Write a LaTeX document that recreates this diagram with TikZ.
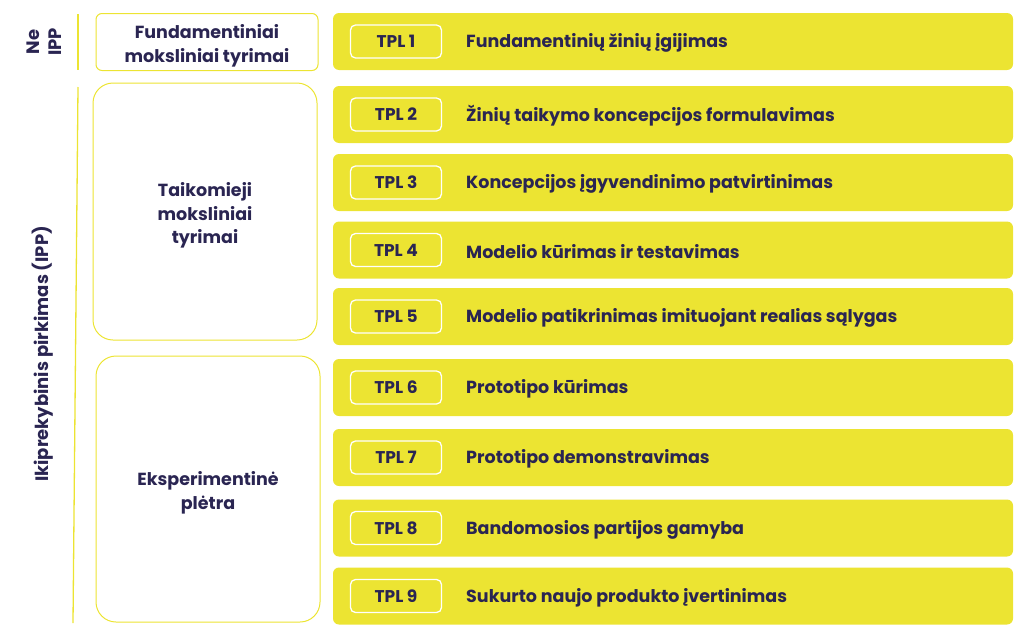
\documentclass[tikz,border=0pt]{standalone}
\usepackage{fontspec}
\setmainfont{Poppins}
\usepackage{tikz}
\usetikzlibrary{positioning}
\definecolor{tplyellow}{HTML}{ECE432}
\definecolor{tplnavy}{HTML}{2A2552}
\tikzstyle{row} = [rectangle, fill=tplyellow, rounded corners=6pt,
    minimum width=680pt, minimum height=57pt, inner sep=0pt]
\tikzstyle{tag} = [rectangle, draw=white, line width=1.3pt, rounded corners=5pt,
    minimum width=91pt, minimum height=33pt, text=tplnavy, font=\fontsize{17}{20}\selectfont\bfseries]
\tikzstyle{desc} = [anchor=west, inner sep=0pt, text=tplnavy, font=\fontsize{17.5}{20}\selectfont\bfseries]
\tikzstyle{group} = [rectangle, draw=tplyellow, line width=1pt, inner sep=0pt]
\tikzstyle{grouptext} = [text=tplnavy, align=center, yshift=-4pt,
    font=\fontsize{17.5}{23.5}\selectfont\bfseries]
\tikzstyle{side} = [rotate=90, text=tplnavy, align=center,
    font=\fontsize{18}{22}\selectfont\bfseries]
\tikzstyle{divider} = [draw=tplyellow, line width=1.3pt]
\begin{document}
\begin{tikzpicture}[x=1pt, y=-1pt]
      \useasboundingbox (0,0) rectangle (1024,640);
      % TPL rows
      \foreach \n/\y/\txt in {1/41.5/{Fundamentinių žinių įgijimas},
          2/114.5/{Žinių taikymo koncepcijos formulavimas},
          3/182.5/{Koncepcijos įgyvendinimo patvirtinimas},
          4/250/{Modelio kūrimas ir testavimas},
          5/316.5/{Modelio patikrinimas imituojant realias sąlygas},
          6/387.5/{Prototipo kūrimas},
          7/457.5/{Prototipo demonstravimas},
          8/528/{Bandomosios partijos gamyba},
          9/596/{Sukurto naujo produkto įvertinimas}} {
        \node [row] (row\n) at (673,\y) {};
        \node [tag] (tag\n) at (396,\y) {TPL \n};
        \node [desc, yshift=-1.5pt] (desc\n) at (466,\y) {\txt};
      }
      % groups
      \node [group, rounded corners=6pt, minimum width=222pt, minimum height=57pt,
          label={[grouptext]center:{Fundamentiniai\\moksliniai tyrimai}}] (fund) at (207,42) {};
      \node [group, rounded corners=20pt, minimum width=224pt, minimum height=257pt,
          label={[grouptext]center:{Taikomieji\\moksliniai\\tyrimai}}] (taik) at (205,211.5) {};
      \node [group, rounded corners=20pt, minimum width=224pt, minimum height=266pt,
          label={[grouptext]center:{Eksperimentinė\\plėtra}}] (eksp) at (208,489) {};
      % side labels
      \node [side] (neipp) at (44,42) {Ne\\IPP};
      \node [side] (ipp) at (43,354) {Ikiprekybinis pirkimas (IPP)};
      \coordinate (d1) at (78,14);
      \coordinate (d2) at (78,70);
      \coordinate (d3) at (78,87);
      \coordinate (d4) at (73,623);
      \path [divider] (d1) -- (d2);
      \path [divider] (d3) -- (d4);
  \end{tikzpicture}
\end{document}
